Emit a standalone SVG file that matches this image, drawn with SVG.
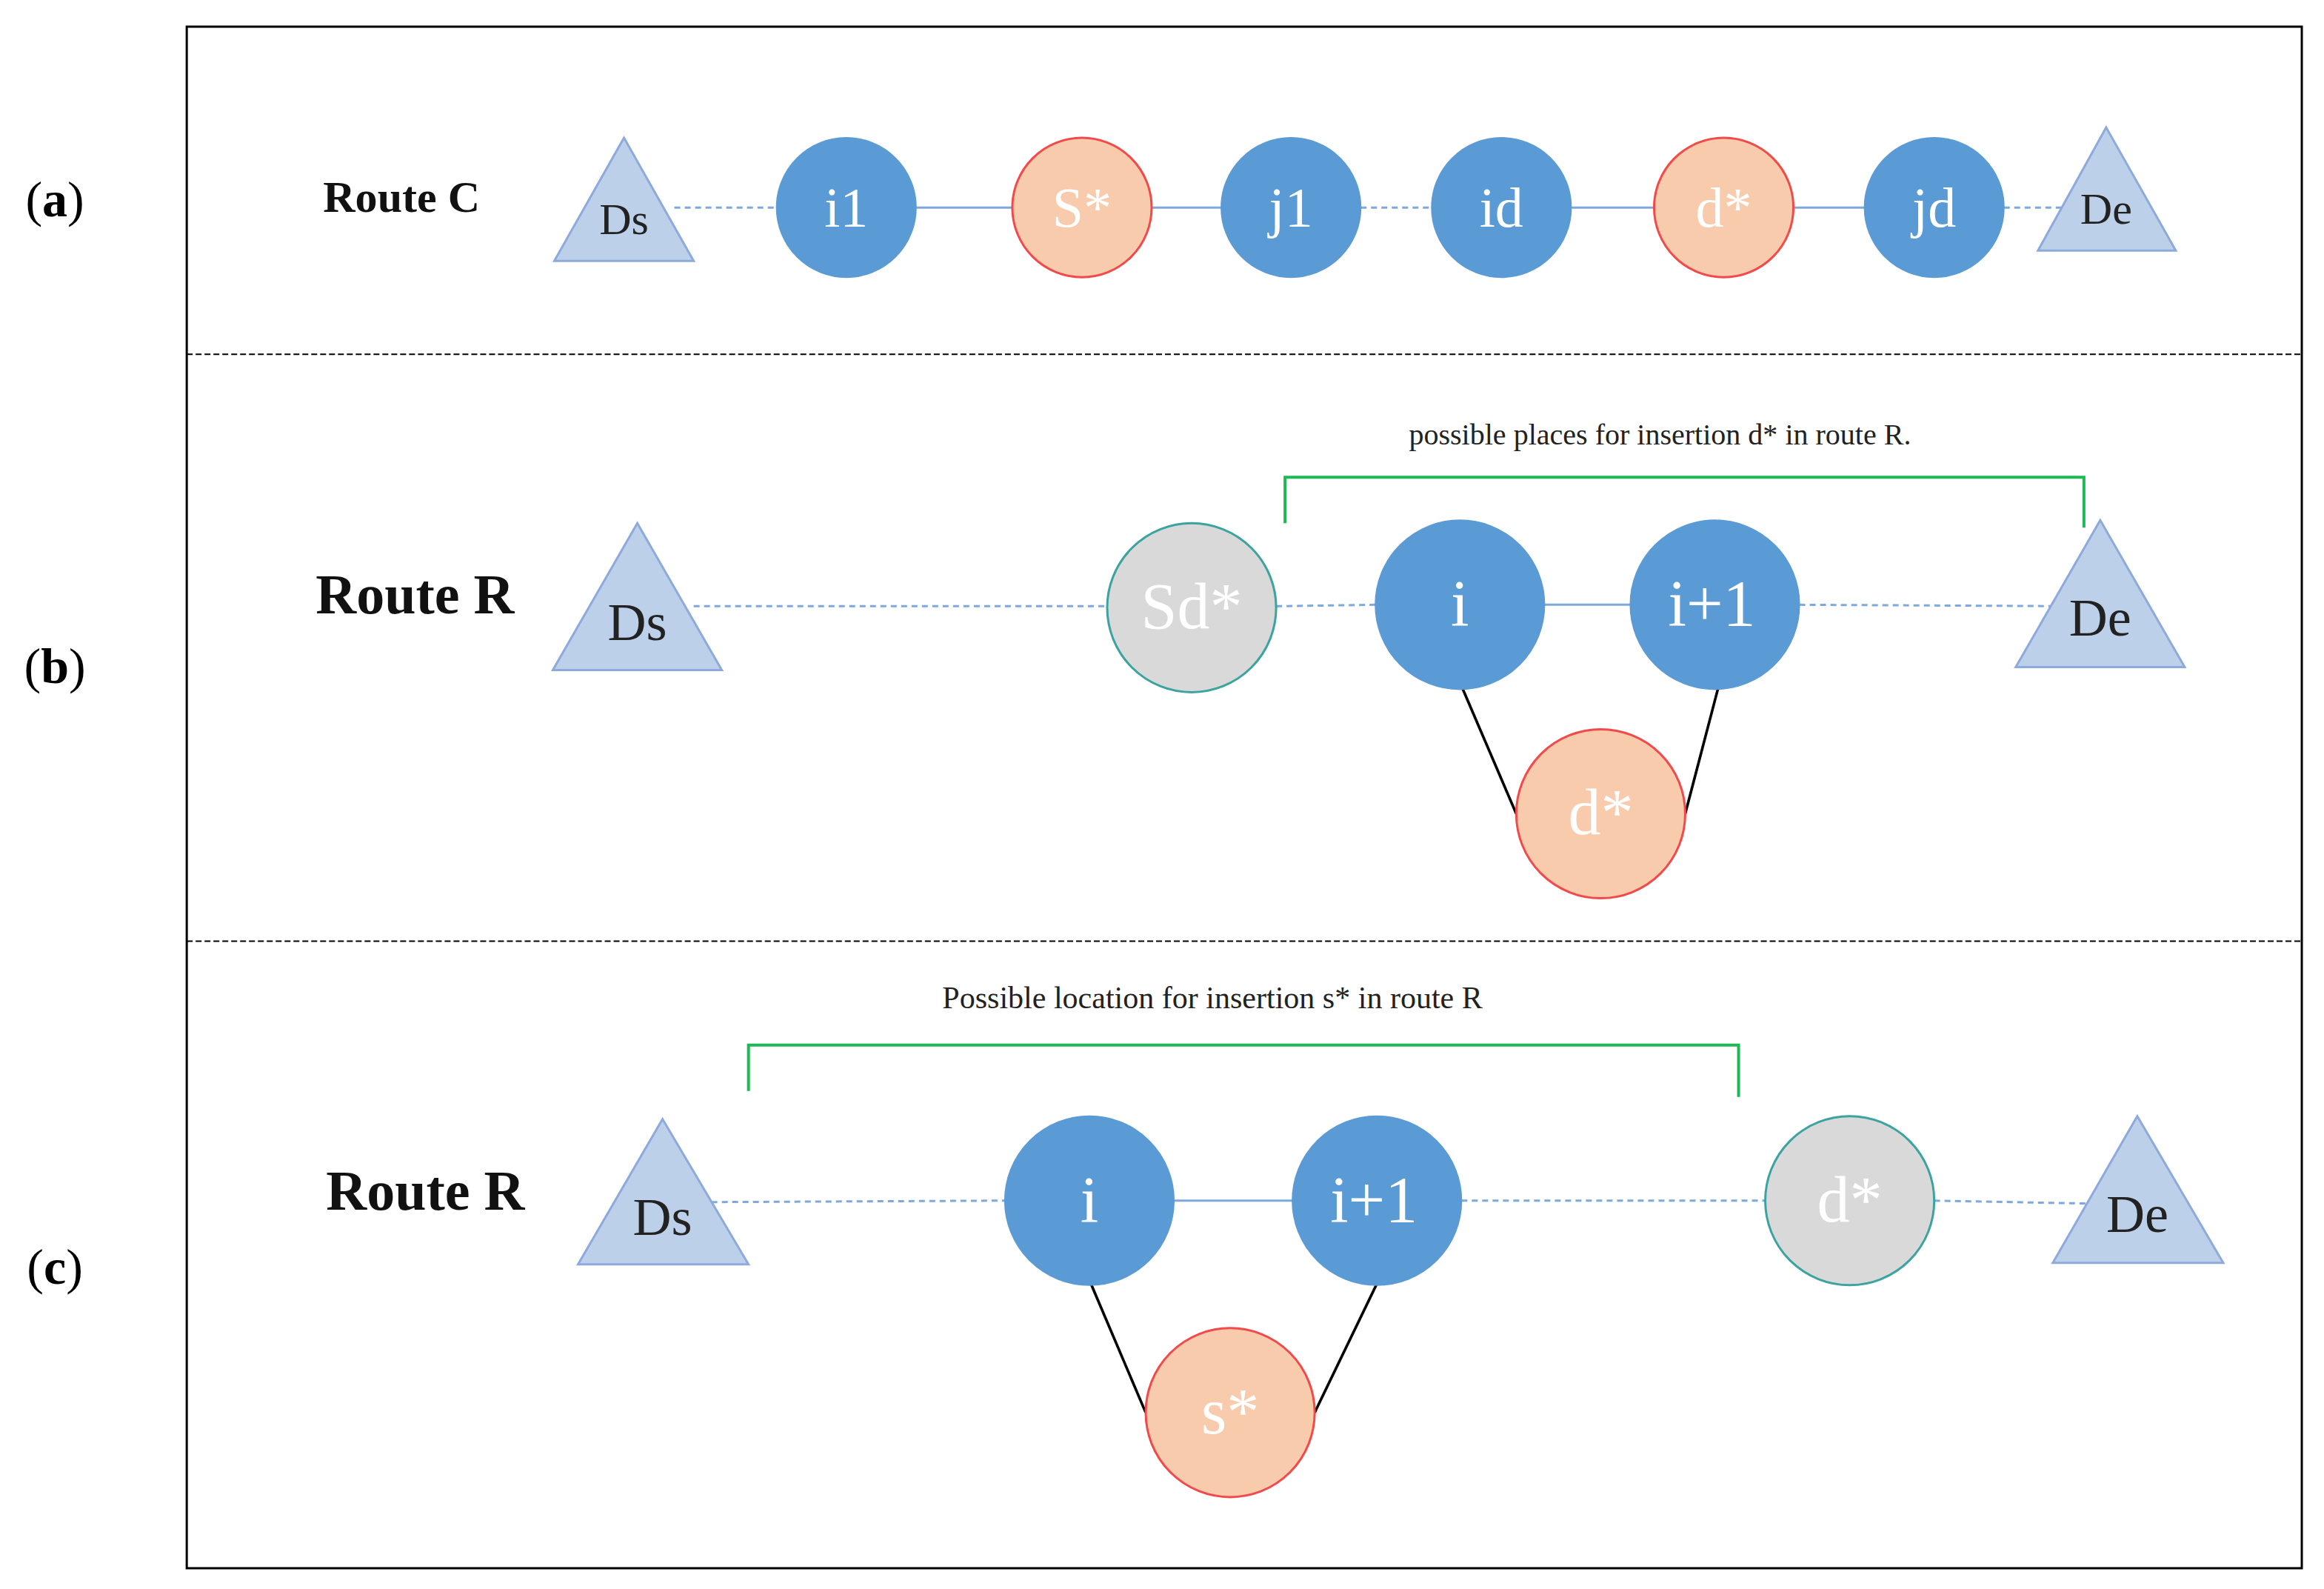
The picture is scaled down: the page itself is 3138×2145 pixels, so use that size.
<svg xmlns="http://www.w3.org/2000/svg" width="3138" height="2145" viewBox="0 0 3138 2145">
<defs><style>
.tri{fill:#BDD0EA;stroke:#8EAADB;stroke-width:1.5}
.blue{fill:#5B9BD5;stroke:#5B9BD5}
.or{fill:#F8CBAD;stroke:#F24A4A;stroke-width:1.5}
.gr{fill:#D9D9D9;stroke:#3BA3A0;stroke-width:1.5}
.t{font-family:"Liberation Serif",serif;text-anchor:middle;fill:#fff}
.tk{font-family:"Liberation Serif",serif;text-anchor:middle;fill:#222}
.lbl{font-family:"Liberation Serif",serif;font-weight:bold;fill:#111}
.sol{stroke:#7FA9DC;stroke-width:1.5;fill:none}
.das{stroke:#7FA9DC;stroke-width:1.5;stroke-dasharray:4 3;fill:none}
.blk{stroke:#000;stroke-width:1.8}
.grn{stroke:#1DB954;stroke-width:2;fill:none}
</style></defs>
<rect width="3138" height="2145" fill="#fff"/>
<g transform="scale(2.0013,2.0009)">
<rect x="126" y="18" width="1427" height="1040" fill="none" stroke="#000" stroke-width="1.5"/>
<line x1="126" y1="239" x2="1553" y2="239" stroke="#000" stroke-dasharray="4 2"/>
<line x1="126" y1="635" x2="1553" y2="635" stroke="#000" stroke-dasharray="4 2"/>
<text x="37" y="146" font-size="34" class="tk" style="fill:#000">(<tspan font-weight="bold">a</tspan>)</text>
<text x="37" y="461" font-size="34" class="tk" style="fill:#000">(<tspan font-weight="bold">b</tspan>)</text>
<text x="37" y="866" font-size="34" class="tk" style="fill:#000">(<tspan font-weight="bold">c</tspan>)</text>
<text x="218" y="143" font-size="30" class="lbl">Route C</text>
<text x="213" y="414" font-size="38" class="lbl">Route R</text>
<text x="220" y="816" font-size="38" class="lbl">Route R</text>
<g id="connectors">
<line class="das" x1="455" y1="140" x2="524" y2="140"/>
<line class="sol" x1="618" y1="140" x2="683" y2="140"/>
<line class="sol" x1="777" y1="140" x2="824" y2="140"/>
<line class="das" x1="918" y1="140" x2="966" y2="140"/>
<line class="sol" x1="1060" y1="140" x2="1116" y2="140"/>
<line class="sol" x1="1210" y1="140" x2="1258" y2="140"/>
<line class="das" x1="1352" y1="140" x2="1405" y2="140"/>
<line class="das" x1="468" y1="409" x2="747" y2="409"/>
<line class="das" x1="861" y1="409" x2="928" y2="408"/>
<line class="sol" x1="1042" y1="408" x2="1100" y2="408"/>
<line class="das" x1="1214" y1="408" x2="1400" y2="409"/>
<line class="blk" x1="987" y1="465" x2="1023" y2="549"/>
<line class="blk" x1="1159" y1="465" x2="1137" y2="549"/>
<line class="das" x1="480" y1="811" x2="678" y2="810"/>
<line class="sol" x1="792" y1="810" x2="872" y2="810"/>
<line class="das" x1="986" y1="810" x2="1191" y2="810"/>
<line class="das" x1="1305" y1="810" x2="1410" y2="812"/>
<line class="blk" x1="736" y1="866" x2="773" y2="953"/>
<line class="blk" x1="929" y1="866" x2="887" y2="953"/>
<polyline class="grn" points="867,353 867,322 1406,322 1406,356"/>
<polyline class="grn" points="505,736 505,705 1173,705 1173,740"/>
</g>
<text x="1120" y="300" font-size="20" class="tk">possible places for insertion d* in route R.</text>
<text x="818" y="680" font-size="21" class="tk">Possible location for insertion s* in route R</text>
<g id="a_Ds"><polygon class="tri" points="421,93 374,176 468,176"/><text x="421" y="158" font-size="30" class="tk">Ds</text></g>
<g id="a_i1"><circle class="blue" cx="571" cy="140" r="47"/><text x="571" y="153" font-size="38" class="t">i1</text></g>
<g id="a_S"><circle class="or" cx="730" cy="140" r="47"/><text x="730" y="153" font-size="38" class="t">S*</text></g>
<g id="a_j1"><circle class="blue" cx="871" cy="140" r="47"/><text x="871" y="153" font-size="38" class="t">j1</text></g>
<g id="a_id"><circle class="blue" cx="1013" cy="140" r="47"/><text x="1013" y="153" font-size="38" class="t">id</text></g>
<g id="a_d"><circle class="or" cx="1163" cy="140" r="47"/><text x="1163" y="153" font-size="38" class="t">d*</text></g>
<g id="a_jd"><circle class="blue" cx="1305" cy="140" r="47"/><text x="1305" y="153" font-size="38" class="t">jd</text></g>
<g id="a_De"><polygon class="tri" points="1421,86 1375,169 1468,169"/><text x="1421" y="151" font-size="30" class="tk">De</text></g>
<g id="b_Ds"><polygon class="tri" points="430,353 373,452 487,452"/><text x="430" y="432" font-size="36" class="tk">Ds</text></g>
<g id="b_Sd"><circle class="gr" cx="804" cy="410" r="57"/><text x="804" y="424" font-size="44" class="t">Sd*</text></g>
<g id="b_i"><circle class="blue" cx="985" cy="408" r="57"/><text x="985" y="422" font-size="44" class="t">i</text></g>
<g id="b_i1"><circle class="blue" cx="1157" cy="408" r="57"/><text x="1155" y="422" font-size="44" class="t">i+1</text></g>
<g id="b_d"><circle class="or" cx="1080" cy="549" r="57"/><text x="1080" y="563" font-size="44" class="t">d*</text></g>
<g id="b_De"><polygon class="tri" points="1417,351 1360,450 1474,450"/><text x="1417" y="429" font-size="36" class="tk">De</text></g>
<g id="c_Ds"><polygon class="tri" points="447,755 390,853 505,853"/><text x="447" y="833" font-size="36" class="tk">Ds</text></g>
<g id="c_i"><circle class="blue" cx="735" cy="810" r="57"/><text x="735" y="824" font-size="44" class="t">i</text></g>
<g id="c_i1"><circle class="blue" cx="929" cy="810" r="57"/><text x="927" y="824" font-size="44" class="t">i+1</text></g>
<g id="c_s"><circle class="or" cx="830" cy="953" r="57"/><text x="830" y="967" font-size="44" class="t">s*</text></g>
<g id="c_d"><circle class="gr" cx="1248" cy="810" r="57"/><text x="1248" y="824" font-size="44" class="t">d*</text></g>
<g id="c_De"><polygon class="tri" points="1442,753 1385,852 1500,852"/><text x="1442" y="831" font-size="36" class="tk">De</text></g>
</g>
</svg>
